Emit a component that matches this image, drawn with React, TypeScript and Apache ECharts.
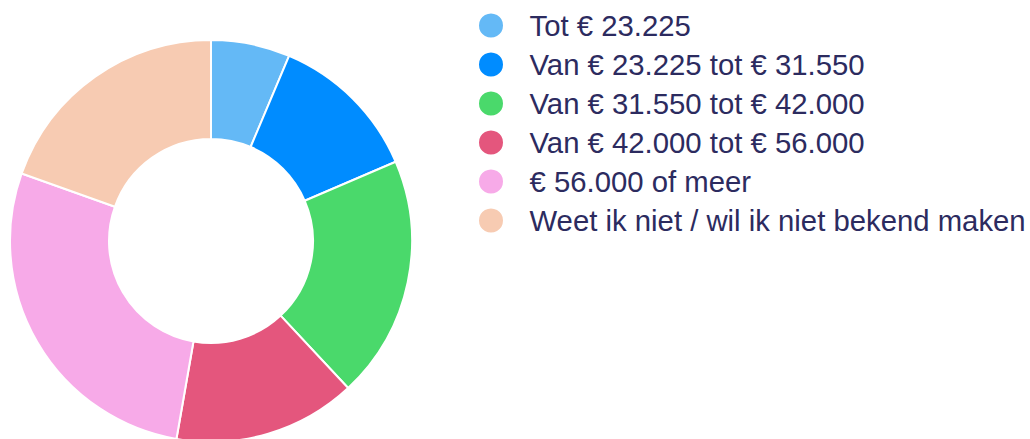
import React, { useEffect, useRef } from "react";
import * as echarts from "echarts";

const categories = [
  "Tot € 23.225",
  "Van € 23.225 tot € 31.550",
  "Van € 31.550 tot € 42.000",
  "Van € 42.000 tot € 56.000",
  "€ 56.000 of meer",
  "Weet ik niet / wil ik niet bekend maken",
];
const values = [6.35, 12.2, 19.5, 14.7, 27.7, 19.55];
const colors = ["#64b9f6", "#008cff", "#4ad96b", "#e4567d", "#f7aae8", "#f7cbb2"];

export default function App() {
  const ref = useRef<HTMLDivElement>(null);
  useEffect(() => {
    if (!ref.current) return;
    const chart = echarts.init(ref.current, undefined, { renderer: "svg" });
    chart.setOption({
      animation: false,
      color: colors,
      legend: {
        orient: "vertical",
        left: 472,
        top: 6,
        icon: "circle",
        itemWidth: 67,
        itemHeight: 26,
        itemGap: 10,
        selectedMode: false,
        textStyle: {
          fontFamily: "Liberation Sans, Arial, sans-serif",
          fontSize: 29.3,
          lineHeight: 28,
          color: "#2c2b5f",
        },
        data: categories,
      },
      series: [
        {
          type: "pie",
          center: [211, 241],
          radius: [102, 201],
          startAngle: 90,
          clockwise: true,
          label: { show: false },
          labelLine: { show: false },
          emphasis: { disabled: true },
          itemStyle: { borderColor: "#ffffff", borderWidth: 2 },
          data: categories.map((name, i) => ({ name, value: values[i] })),
        },
      ],
    });
    return () => chart.dispose();
  }, []);
  return <div ref={ref} style={{ width: 1030, height: 439, position: "absolute", left: 0, top: 0 }} />;
}
